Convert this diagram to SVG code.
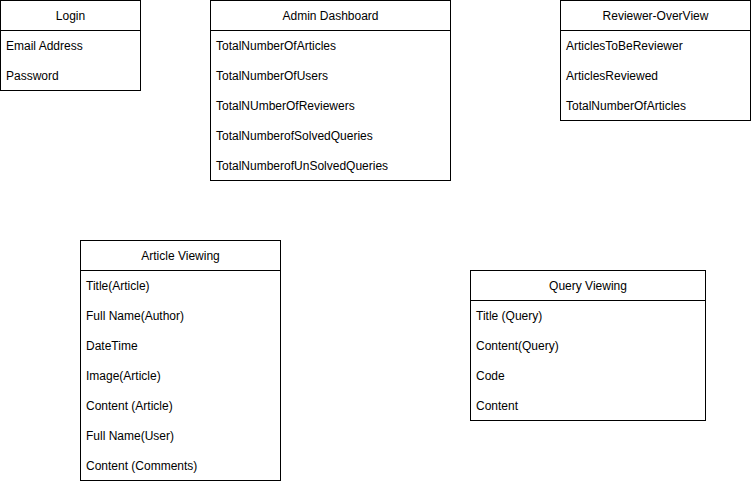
<svg xmlns="http://www.w3.org/2000/svg" width="751" height="481" viewBox="0 0 751 481">
<style>
.box{fill:#fff;stroke:#000;stroke-width:1}
.sep{stroke:#000;stroke-width:1}
text{font-family:"Liberation Sans",Arial,sans-serif;font-size:12px;fill:#000}
.h{text-anchor:middle}
</style>
<rect width="751" height="481" fill="#fff"/>
<g id="connectors"></g>
<g id="login">
<rect class="box" x="0.5" y="0.5" width="140" height="90"/>
<line class="sep" x1="0.5" y1="30.5" x2="140.5" y2="30.5"/>
<text class="h" x="70.5" y="19.5">Login</text>
<text x="6" y="49.5">Email Address</text>
<text x="6" y="79.5">Password</text>
</g>
<g id="admin-dashboard">
<rect class="box" x="210.5" y="0.5" width="240" height="180"/>
<line class="sep" x1="210.5" y1="30.5" x2="450.5" y2="30.5"/>
<text class="h" x="330.5" y="19.5">Admin Dashboard</text>
<text x="216" y="49.5">TotalNumberOfArticles</text>
<text x="216" y="79.5">TotalNumberOfUsers</text>
<text x="216" y="109.5">TotalNUmberOfReviewers</text>
<text x="216" y="139.5">TotalNumberofSolvedQueries</text>
<text x="216" y="169.5">TotalNumberofUnSolvedQueries</text>
</g>
<g id="reviewer-overview">
<rect class="box" x="560.5" y="0.5" width="190" height="120"/>
<line class="sep" x1="560.5" y1="30.5" x2="750.5" y2="30.5"/>
<text class="h" x="655.5" y="19.5">Reviewer-OverView</text>
<text x="566" y="49.5">ArticlesToBeReviewer</text>
<text x="566" y="79.5">ArticlesReviewed</text>
<text x="566" y="109.5">TotalNumberOfArticles</text>
</g>
<g id="article-viewing">
<rect class="box" x="80.5" y="240.5" width="200" height="240"/>
<line class="sep" x1="80.5" y1="270.5" x2="280.5" y2="270.5"/>
<text class="h" x="180.5" y="259.5">Article Viewing</text>
<text x="86" y="289.5">Title(Article)</text>
<text x="86" y="319.5">Full Name(Author)</text>
<text x="86" y="349.5">DateTime</text>
<text x="86" y="379.5">Image(Article)</text>
<text x="86" y="409.5">Content (Article)</text>
<text x="86" y="439.5">Full Name(User)</text>
<text x="86" y="469.5">Content (Comments)</text>
</g>
<g id="query-viewing">
<rect class="box" x="470.5" y="270.5" width="235" height="150"/>
<line class="sep" x1="470.5" y1="300.5" x2="705.5" y2="300.5"/>
<text class="h" x="588" y="289.5">Query Viewing</text>
<text x="476" y="319.5">Title (Query)</text>
<text x="476" y="349.5">Content(Query)</text>
<text x="476" y="379.5">Code</text>
<text x="476" y="409.5">Content</text>
</g>
</svg>
